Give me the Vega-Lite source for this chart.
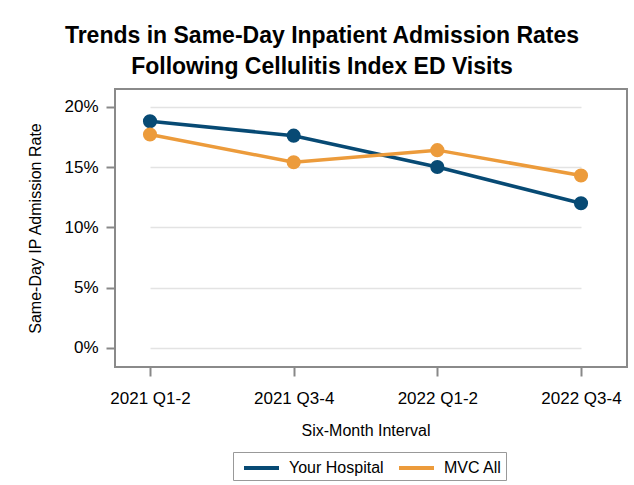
{
  "$schema": "https://vega.github.io/schema/vega-lite/v6.json",
  "autosize": "none",
  "width": 512,
  "height": 278,
  "padding": {"left": 115, "top": 89, "right": 7, "bottom": 118},
  "background": "white",
  "title": {
    "text": ["Trends in Same-Day Inpatient Admission Rates", "Following Cellulitis Index ED Visits"],
    "font": "Liberation Sans",
    "fontSize": 23,
    "fontWeight": "bold",
    "color": "black",
    "anchor": "middle",
    "frame": "group",
    "dx": -49,
    "offset": 10,
    "lineHeight": 31
  },
  "data": {
    "values": [
      {"interval": "2021 Q1-2", "group": "Your Hospital", "rate": 0.188},
      {"interval": "2021 Q3-4", "group": "Your Hospital", "rate": 0.176},
      {"interval": "2022 Q1-2", "group": "Your Hospital", "rate": 0.150},
      {"interval": "2022 Q3-4", "group": "Your Hospital", "rate": 0.120},
      {"interval": "2021 Q1-2", "group": "MVC All", "rate": 0.177},
      {"interval": "2021 Q3-4", "group": "MVC All", "rate": 0.154},
      {"interval": "2022 Q1-2", "group": "MVC All", "rate": 0.164},
      {"interval": "2022 Q3-4", "group": "MVC All", "rate": 0.143}
    ]
  },
  "encoding": {
    "x": {
      "field": "interval",
      "type": "ordinal",
      "sort": ["2021 Q1-2", "2021 Q3-4", "2022 Q1-2", "2022 Q3-4"],
      "scale": {"type": "point", "range": [35, 466], "padding": 0},
      "axis": {
        "title": "Six-Month Interval",
        "labelAngle": 0,
        "grid": false,
        "domain": false,
        "tickColor": "#888888",
        "tickWidth": 2,
        "tickSize": 9,
        "labelPadding": 14,
        "labelFont": "Liberation Sans",
        "labelFontSize": 17,
        "labelColor": "black",
        "titleFont": "Liberation Sans",
        "titleFontSize": 16,
        "titleFontWeight": "normal",
        "titleColor": "black",
        "titlePadding": 16
      }
    },
    "y": {
      "field": "rate",
      "type": "quantitative",
      "scale": {"domain": [-0.0158, 0.2147], "nice": false, "zero": false},
      "axis": {
        "title": "Same-Day IP Admission Rate",
        "format": ".0%",
        "values": [0, 0.05, 0.1, 0.15, 0.2],
        "domain": false,
        "gridColor": "#e3e3e3",
        "gridWidth": 1.5,
        "tickColor": "#888888",
        "tickWidth": 2,
        "tickSize": 9,
        "labelPadding": 8,
        "labelFont": "Liberation Sans",
        "labelFontSize": 17,
        "labelColor": "black",
        "titleFont": "Liberation Sans",
        "titleFontSize": 16,
        "titleFontWeight": "normal",
        "titleColor": "black",
        "titlePadding": 20
      }
    },
    "color": {
      "field": "group",
      "type": "nominal",
      "sort": ["Your Hospital", "MVC All"],
      "scale": {"domain": ["Your Hospital", "MVC All"], "range": ["#074a74", "#ec9b3b"]},
      "legend": {
        "title": null,
        "orient": "none",
        "direction": "horizontal",
        "legendX": 118,
        "legendY": 363,
        "symbolType": "M-0.5,0H3",
        "symbolStrokeWidth": 4,
        "symbolSize": 400,
        "symbolFillColor": "transparent",
        "labelFont": "Liberation Sans",
        "labelFontSize": 16,
        "labelColor": "black",
        "strokeColor": "#999999",
        "padding": 4,
        "columnPadding": 7,
        "labelOffset": 28
      }
    }
  },
  "layer": [
    {"mark": {"type": "line", "strokeWidth": 3.5}},
    {"mark": {"type": "circle", "size": 200, "opacity": 1}}
  ],
  "config": {
    "view": {"stroke": "#8a8a8a", "strokeWidth": 2}
  }
}
